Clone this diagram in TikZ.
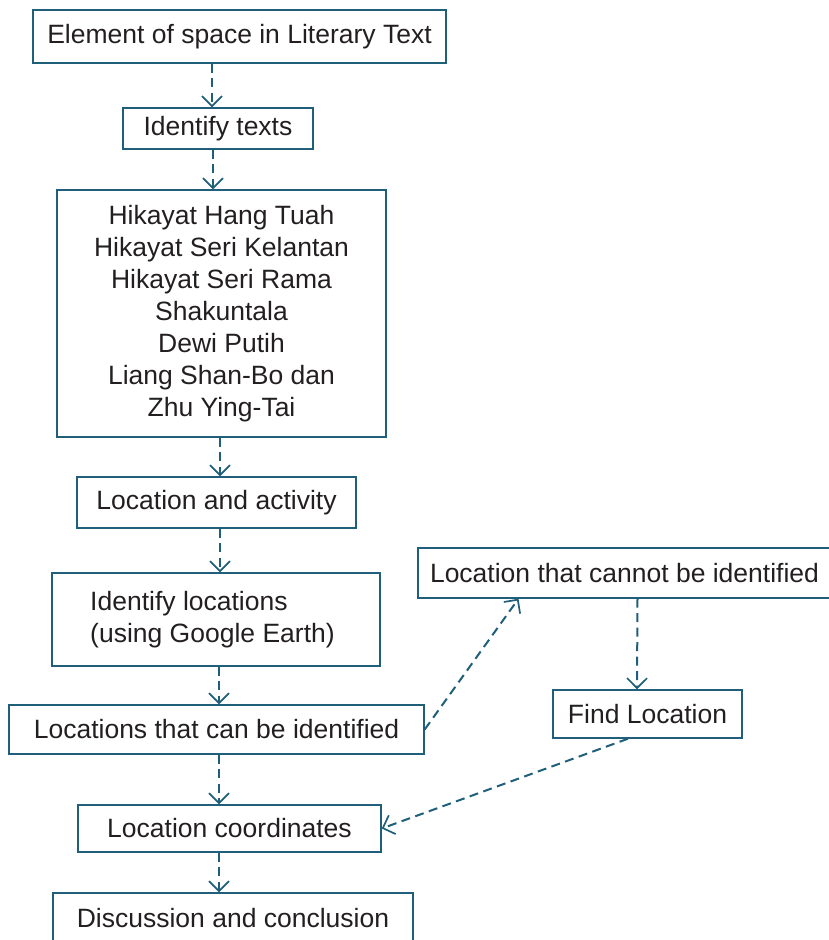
\documentclass[tikz,border=0pt]{standalone}
\usepackage{fontspec}
\setmainfont{Liberation Sans}
\usetikzlibrary{arrows.meta,calc}
\definecolor{teal1}{HTML}{1F5F7A}
\definecolor{txt}{HTML}{231F20}
\begin{document}
\begin{tikzpicture}[x=1pt,y=-1pt,
 box/.style={draw=teal1,line width=1.4pt,inner sep=0pt,text=txt,font=\fontsize{26.5}{32}\selectfont,align=center},
 arr/.style={draw=teal1,line width=2pt,dash pattern=on 9pt off 5.5pt,-{Straight Barb[length=10pt,width=20pt,line width=1.7pt]}}]
\useasboundingbox (0,0) rectangle (829,940);
\node[box,minimum width=413pt,minimum height=53pt] (b1) at (239.5,36.5) {Element of space in Literary Text};
\node[box,minimum width=190pt,minimum height=41pt] (b2) at (218,128.5) {Identify texts};
\node[box,minimum width=329pt,minimum height=247pt] (b3) at (221.5,313.5) {Hikayat Hang Tuah\\Hikayat Seri Kelantan\\Hikayat Seri Rama\\Shakuntala\\Dewi Putih\\Liang Shan-Bo dan\\Zhu Ying-Tai};
\node[box,minimum width=279pt,minimum height=51pt] (b4) at (216.5,502.5) {Location and activity};
\node[box,minimum width=328pt,minimum height=93pt,align=left] (b5) at (216,619.5) {Identify locations\\(using Google Earth)\hspace*{7pt}};
\node[box,minimum width=415pt,minimum height=49pt] (b6) at (216.5,729.5) {Locations that can be identified};
\node[box,minimum width=303pt,minimum height=47pt] (b7) at (229.5,828.5) {Location coordinates};
\node[box,minimum width=360pt,minimum height=50pt] (b8) at (233,918) {Discussion and conclusion};
\node[box,minimum width=413pt,minimum height=50pt] (b9) at (624.5,573) {Location that cannot be identified};
\node[box,minimum width=189pt,minimum height=48pt] (b10) at (647.5,714) {Find Location};
% vertical connectors
\draw[arr] ([xshift=-27.5pt]b1.south) -- ([xshift=-6pt]b2.north);
\draw[arr] ([xshift=-5pt]b2.south) -- ([xshift=-8.5pt]b3.north);
\draw[arr] ([xshift=-1.5pt]b3.south) -- ([xshift=3.5pt]b4.north);
\draw[arr] ([xshift=3.5pt]b4.south) -- ([xshift=4pt]b5.north);
\draw[arr] ([xshift=3pt]b5.south) -- ([xshift=2.5pt]b6.north);
\draw[arr] ([xshift=2.5pt]b6.south) -- ([xshift=-10.5pt]b7.north);
\draw[arr] ([xshift=-10.5pt]b7.south) -- ([xshift=-14pt]b8.north);
% right branch
\draw[arr] (b6.east) -- ([xshift=-106pt]b9.south);
\draw[arr] ([xshift=13pt]b9.south) -- ([xshift=-10.5pt]b10.north);
\draw[arr] ([xshift=-19.5pt]b10.south) -- (b7.east);
\end{tikzpicture}
\end{document}
